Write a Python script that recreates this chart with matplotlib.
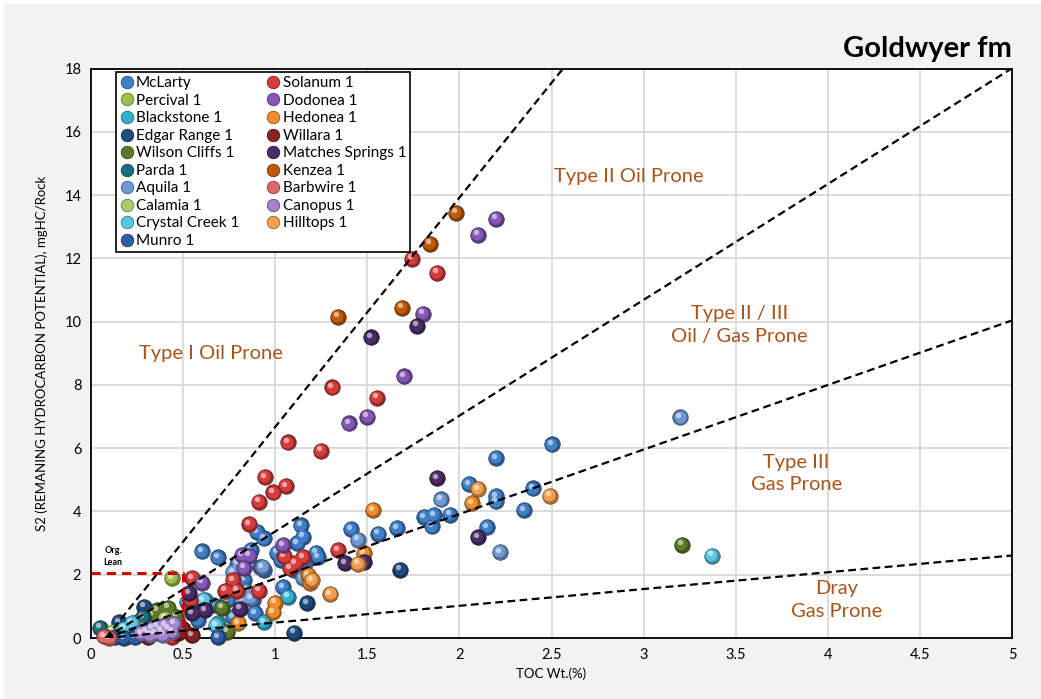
import numpy as np
import matplotlib
matplotlib.use("Agg")
import matplotlib.pyplot as plt
import matplotlib.transforms as mtransforms
from matplotlib.colors import to_rgb
from matplotlib.lines import Line2D
from matplotlib.patches import Rectangle

plt.rcParams['font.family'] = ['Lato', 'DejaVu Sans']

# (TOC wt.%, S2 mgHC/g rock) per well
mclarty = [(0.6, 2.74), (0.69, 2.55), (0.79, 2.3), (0.83, 1.83), (0.87, 2.78), (0.9, 3.35),
           (0.94, 3.15), (0.92, 2.24), (0.94, 2.14), (1.01, 2.7), (1.14, 3.56), (1.15, 3.2),
           (1.12, 3.0), (1.22, 2.7), (1.23, 2.56), (1.16, 2.37), (1.1, 2.15), (1.18, 1.89),
           (1.04, 1.61), (0.88, 1.2), (0.74, 1.2), (0.66, 1.04), (0.58, 0.57), (0.89, 0.79),
           (1.41, 3.44), (1.56, 3.3), (1.66, 3.47), (1.81, 3.82), (1.86, 3.88), (1.85, 3.53),
           (1.95, 3.9), (2.05, 4.86), (2.2, 5.68), (2.2, 4.48), (2.2, 4.32), (2.4, 4.73),
           (2.35, 4.04), (2.15, 3.5), (2.5, 6.12), (1.03, 2.46), (0.77, 0.66), (0.13, 0.1)]
percival = [(0.44, 1.89), (0.3, 0.45)]
blackstone = [(0.54, 0.98), (0.62, 1.2), (0.69, 0.47), (0.94, 0.5), (1.07, 1.3),
              (0.22, 0.19), (0.52, 1.14), (0.16, 0.3)]
edgar_range = [(1.68, 2.15), (1.17, 1.1), (1.1, 0.16), (0.29, 0.98), (0.15, 0.5)]
wilson_cliffs = [(3.21, 2.95), (0.71, 0.95), (0.74, 0.19), (0.36, 0.88), (0.42, 0.95),
                 (0.46, 0.66), (0.47, 0.47), (0.33, 0.7), (0.39, 0.55)]
parda = [(0.05, 0.32), (0.28, 0.66), (0.25, 0.5)]
aquila = [(3.2, 6.97), (1.9, 4.38), (1.45, 3.1), (2.22, 2.71), (0.84, 1.5), (0.87, 1.26),
          (0.82, 1.2), (1.15, 1.89), (0.8, 2.37), (0.77, 2.08), (0.93, 2.24), (0.2, 0.05)]
calamia = [(0.26, 0.3), (0.4, 0.62), (0.12, 0.2)]
crystal_creek = [(3.37, 2.6), (0.61, 1.2), (0.22, 0.47), (0.68, 0.41), (0.18, 0.3)]
munro = [(0.69, 0.03), (0.18, 0.0), (0.24, 0.02), (0.13, 0.03)]
solanum = [(1.74, 11.99), (1.88, 11.55), (1.31, 7.92), (1.55, 7.6), (1.07, 6.18), (1.25, 5.92),
           (0.945, 5.08), (1.06, 4.8), (0.99, 4.6), (0.91, 4.3), (0.86, 3.6), (1.34, 2.78),
           (1.05, 2.58), (1.15, 2.56), (1.08, 2.2), (1.11, 2.37), (0.77, 1.83), (0.73, 1.5),
           (0.79, 1.5), (0.91, 1.5), (0.55, 1.89), (0.54, 1.2), (0.44, 0.03)]
dodonea = [(2.2, 13.25), (2.1, 12.74), (1.8, 10.25), (1.7, 8.27), (1.5, 7.0), (1.4, 6.78),
           (0.86, 2.6), (0.83, 2.22), (1.04, 2.93), (0.6, 1.74), (0.82, 2.62)]
hedonea = [(2.07, 4.26), (1.53, 4.04), (1.48, 2.68), (1.18, 1.99), (1.19, 1.73),
           (1.0, 1.12), (0.99, 0.82), (0.8, 0.47)]
willara = [(0.55, 0.08), (0.47, 0.16), (0.31, 0.03), (0.5, 0.3)]
matches_springs = [(1.52, 9.5), (1.77, 9.87), (1.88, 5.05), (2.1, 3.19), (1.38, 2.37), (1.48, 2.4),
                   (0.53, 1.42), (0.55, 0.79), (0.81, 0.92), (0.62, 0.88)]
kenzea = [(1.98, 13.44), (1.84, 12.46), (1.69, 10.44), (1.34, 10.16)]
barbwire = [(0.07, 0.05), (0.1, 0.0)]
canopus = [(0.3, 0.2), (0.33, 0.3), (0.36, 0.35), (0.38, 0.25), (0.4, 0.4), (0.42, 0.3),
           (0.35, 0.15), (0.45, 0.45), (0.32, 0.1), (0.27, 0.15), (0.44, 0.2), (0.39, 0.1)]
hilltops = [(2.1, 4.7), (2.49, 4.5), (1.45, 2.34), (1.3, 1.39), (1.2, 1.83)]

wells = [("McLarty", mclarty, '#3f7fc8'),
         ("Percival 1", percival, '#9cc04a'),
         ("Blackstone 1", blackstone, '#35b0cf'),
         ("Edgar Range 1", edgar_range, '#1f4a7e'),
         ("Wilson Cliffs 1", wilson_cliffs, '#5c7a25'),
         ("Parda 1", parda, '#1f6e80'),
         ("Aquila 1", aquila, '#6f9ad6'),
         ("Calamia 1", calamia, '#a9cc70'),
         ("Crystal Creek 1", crystal_creek, '#5cc6e0'),
         ("Munro 1", munro, '#2c5ea6'),
         ("Solanum 1", solanum, '#d63c3c'),
         ("Dodonea 1", dodonea, '#8456b6'),
         ("Hedonea 1", hedonea, '#f08c2a'),
         ("Willara 1", willara, '#842424'),
         ("Matches Springs 1", matches_springs, '#4a2d66'),
         ("Kenzea 1", kenzea, '#c05a08'),
         ("Barbwire 1", barbwire, '#d86a6a'),
         ("Canopus 1", canopus, '#a183cf'),
         ("Hilltops 1", hilltops, '#f3a04e')]

# kerogen type boundaries: S2 = slope * (TOC - toc0)
toc0 = 0.08
boundary_slopes = [7.25, 3.66, 2.04, 0.53]
toc_lean, s2_lean = 0.5, 2.05

region_labels = [(0.65, 9.0, "Type I Oil Prone"),
                 (2.92, 14.6, "Type II Oil Prone"),
                 (3.52, 9.9, "Type II / III\nOil / Gas Prone"),
                 (3.83, 5.2, "Type III\nGas Prone"),
                 (4.05, 1.2, "Dray\nGas Prone")]


def shade(c, f):
    c = np.array(to_rgb(c))
    if f >= 0:
        return tuple(c + (1 - c) * f)
    return tuple(c * (1 + f))


fig = plt.figure(figsize=(10.41, 6.99), dpi=100, facecolor='white')
fig.patches.append(Rectangle((4 / 1041, 0), 1, 1 - 4 / 699, transform=fig.transFigure,
                             facecolor='#f2f2f2', edgecolor='none', zorder=-10))
ax = fig.add_axes([91 / 1041, 1 - 638 / 699, 921 / 1041, 569.5 / 699])
ax.set_facecolor('white')


def spheres(pts, color, z, s=125):
    xs = [p[0] for p in pts]
    ys = [p[1] for p in pts]
    off1 = ax.transData + mtransforms.ScaledTranslation(-0.008, 0.008, fig.dpi_scale_trans)
    off2 = ax.transData + mtransforms.ScaledTranslation(-0.02, 0.025, fig.dpi_scale_trans)
    ax.scatter(xs, ys, s=s, color=shade(color, -0.3), edgecolors=shade(color, -0.5),
               linewidths=0.5, zorder=z, clip_on=False)
    ax.scatter(xs, ys, s=s * 0.6, color=color, linewidths=0, zorder=z + 0.001,
               transform=off1, clip_on=False)
    ax.scatter(xs, ys, s=s * 0.12, color=shade(color, 0.55), linewidths=0, zorder=z + 0.002,
               transform=off2, clip_on=False)


for i, (name, pts, col) in enumerate(wells):
    spheres(pts, col, 3 + i * 0.01)

xx = np.linspace(toc0, 5, 200)
for m in boundary_slopes:
    ax.plot(xx, m * (xx - toc0), color='black', ls=(0, (3.5, 2)), lw=1.6, zorder=5)

ax.plot([0, toc_lean, toc_lean], [s2_lean, s2_lean, 0], color='#cc0000',
        ls=(0, (3, 2)), lw=2.2, zorder=5)
ax.text(0.12, 2.25, "Org.\nLean", fontsize=6.5, fontweight='bold', ha='center',
        va='bottom', linespacing=1.4, zorder=6)

for x, y, t in region_labels:
    ax.text(x, y, t, color='#a8541c', fontsize=14.5, ha='center', va='center',
            linespacing=1.4, zorder=6)

ax.set_xlim(0, 5)
ax.set_ylim(0, 18)
xt = np.arange(0, 5.01, 0.5)
ax.set_xticks(xt)
ax.set_xticklabels([f"{v:g}" for v in xt])
ax.set_yticks(np.arange(0, 19, 2))
ax.tick_params(length=0, labelsize=10.5, pad=7)
ax.grid(True, color='#d9d9d9', lw=1.3, zorder=0)
ax.set_axisbelow(True)
for sp in ax.spines.values():
    sp.set_linewidth(1.3)
    sp.set_color('black')

ax.set_xlabel("TOC Wt.(%)", fontsize=9.5, labelpad=4)
ax.set_ylabel("S2 (REMANING HYDROCARBON POTENTIAL), mgHC/Rock", fontsize=9.5, labelpad=12)

fig.text(1012 / 1041, 1 - 49 / 699, "Goldwyer fm", fontsize=21, fontweight='bold',
         ha='right', va='center')

handles = [Line2D([], [], ls='', marker='o', ms=9, markerfacecolor=col,
                  markeredgecolor=shade(col, -0.4), markeredgewidth=0.6)
           for name, pts, col in wells]
leg = ax.legend(handles, [w[0] for w in wells], ncol=2, loc='upper left',
                bbox_to_anchor=(0.027, 0.993), fontsize=11, frameon=True, fancybox=False,
                edgecolor='black', framealpha=1, borderpad=0.25, labelspacing=0.23,
                handletextpad=0.15, handlelength=0.9, columnspacing=1.8, borderaxespad=0)
leg.get_frame().set_linewidth(1.2)
leg.set_zorder(10)

fig.savefig("out.png", dpi=100, facecolor=fig.get_facecolor())
